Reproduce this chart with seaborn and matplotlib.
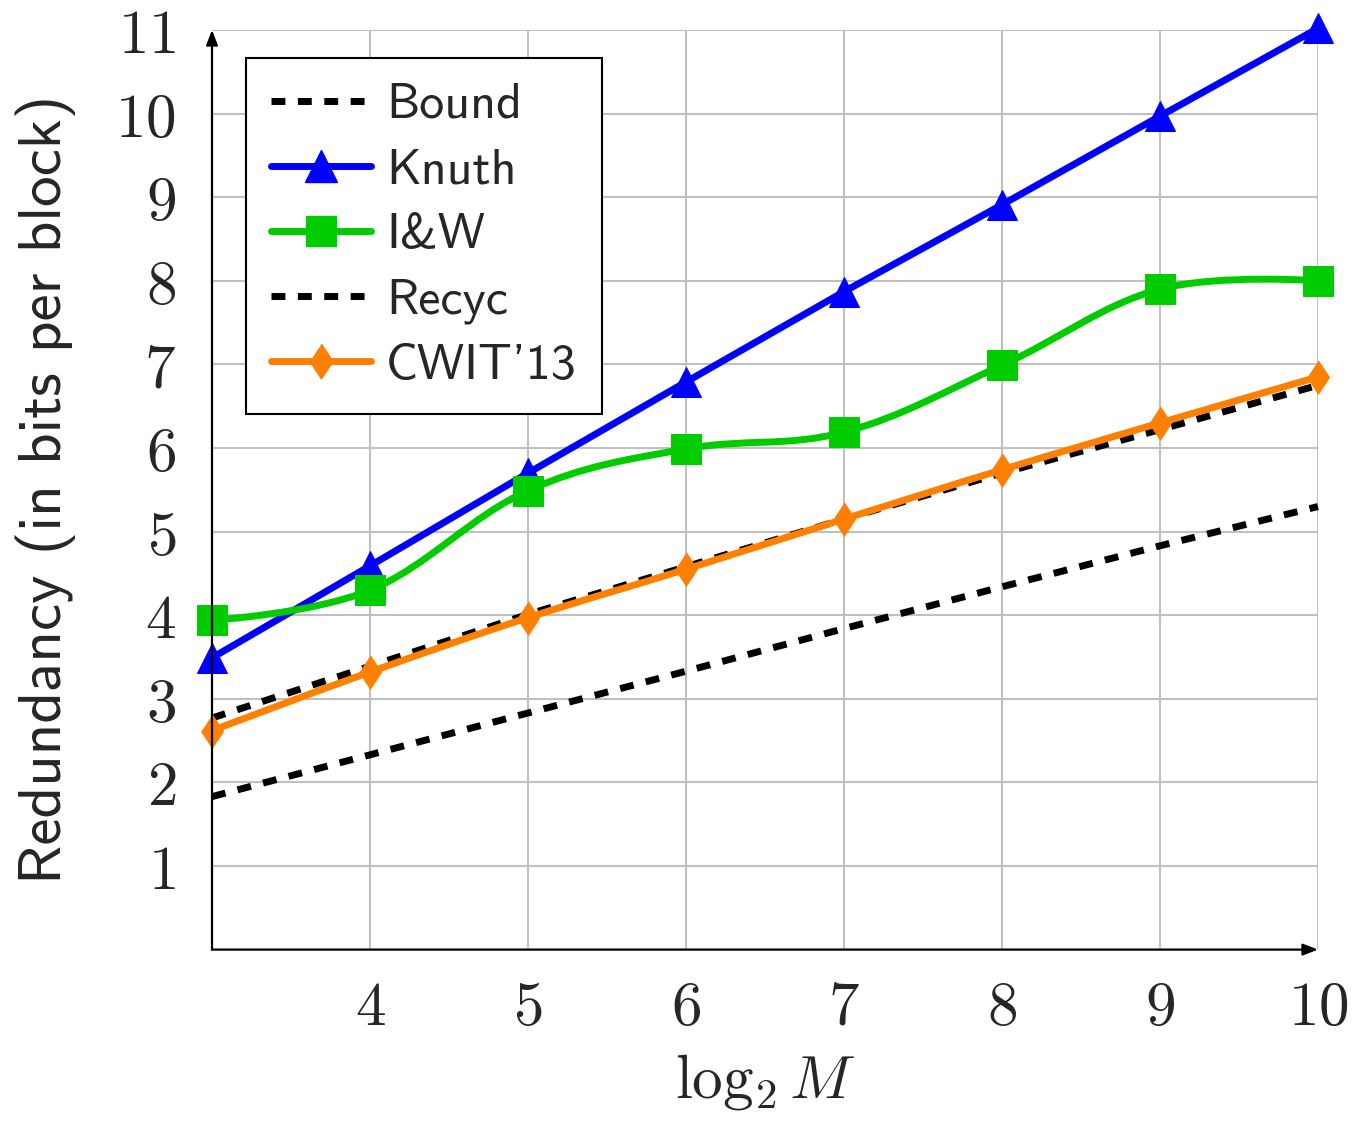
import numpy as np
import matplotlib
matplotlib.use("Agg")
import matplotlib.pyplot as plt
import seaborn as sns
import pandas as pd
from matplotlib.path import Path
from matplotlib.patches import PathPatch
from matplotlib.lines import Line2D

# ---------------- data ----------------
log2M = [3, 4, 5, 6, 7, 8, 9, 10]
bound = [1.83, 2.33, 2.83, 3.33, 3.84, 4.34, 4.83, 5.30]
knuth = [3.49, 4.59, 5.70, 6.79, 7.87, 8.91, 9.97, 11.02]
iw = [3.94, 4.30, 5.49, 5.99, 6.19, 6.99, 7.90, 8.00]
recyc = [2.77, 3.39, 4.01, 4.58, 5.15, 5.70, 6.22, 6.75]
cwit = [2.62, 3.32, 3.97, 4.55, 5.15, 5.74, 6.30, 6.85]
labels = ["Bound", "Knuth", "I&W", "Recyc", "CWIT'13"]
xticks = [4, 5, 6, 7, 8, 9, 10]
yticks = [1, 2, 3, 4, 5, 6, 7, 8, 9, 10, 11]

BLUE = "#0000FF"
GREEN = "#00CC00"
ORANGE = "#FF8000"
GRID = "#C0C0C0"

sns.set_style("white")
plt.rcParams["mathtext.fontset"] = "cm"
plt.rcParams["axes.unicode_minus"] = False
SANS = ["cmss10", "DejaVu Sans"]

W, H = 1354, 1123
fig = plt.figure(figsize=(W / 100, H / 100), dpi=100)
ax = fig.add_axes([212 / W, 1 - 949.6 / H, (1318 - 212) / W, (949.6 - 30) / H])
ax.set_xlim(3, 10)
ax.set_ylim(0, 11)

LW = 5.0
DASH = [2.0, 1.8]
diamond = [(0, 1), (0.66, 0), (0, -1), (-0.66, 0)]

def smooth_patch(xs, ys, color, z, t=0.1833):
    pts = np.column_stack([xs, ys]).astype(float)
    n = len(pts)
    verts = [pts[0]]
    codes = [Path.MOVETO]
    for i in range(n - 1):
        p0, p1 = pts[i], pts[i + 1]
        d0 = (pts[i + 1] - pts[i - 1]) if i > 0 else np.zeros(2)
        d1 = (pts[i + 2] - pts[i]) if i + 2 < n else np.zeros(2)
        verts += [p0 + t * d0, p1 - t * d1, p1]
        codes += [Path.CURVE4] * 3
    return PathPatch(Path(verts, codes), fill=False, edgecolor=color, lw=LW,
                     capstyle="butt", joinstyle="round", zorder=z)

df = pd.DataFrame({"x": log2M, "bound": bound, "knuth": knuth, "iw": iw,
                   "recyc": recyc, "cwit": cwit})

# Bound
sns.lineplot(data=df, x="x", y="bound", ax=ax, color="black", lw=LW,
             zorder=3, clip_on=False)
ax.lines[-1].set_dashes(DASH)
# Knuth
sns.lineplot(data=df, x="x", y="knuth", ax=ax, color=BLUE, lw=LW, marker="^",
             markersize=22, markeredgecolor=BLUE, markerfacecolor=BLUE,
             zorder=4, clip_on=False)
# I&W
ax.add_patch(smooth_patch(log2M, iw, GREEN, 5))
sns.lineplot(data=df, x="x", y="iw", ax=ax, color=GREEN, lw=0, marker="s",
             markersize=22, markeredgecolor=GREEN, markerfacecolor=GREEN,
             zorder=5, clip_on=False)
# Recyc
sns.lineplot(data=df, x="x", y="recyc", ax=ax, color="black", lw=LW,
             zorder=6, clip_on=False)
ax.lines[-1].set_dashes(DASH)
# CWIT'13
ax.add_patch(smooth_patch(log2M, cwit, ORANGE, 7))
sns.lineplot(data=df, x="x", y="cwit", ax=ax, color=ORANGE, lw=0, marker=diamond,
             markersize=24, markeredgecolor=ORANGE, markerfacecolor=ORANGE,
             zorder=8, clip_on=False)

# axes styling
for s in ax.spines.values():
    s.set_visible(False)
ax.set_xticks(xticks)
ax.set_yticks(yticks)
ax.set_xticklabels([f"${v}$" for v in xticks])
ax.set_yticklabels([f"${v}$" for v in yticks])
ax.grid(True, color=GRID, lw=1.5, zorder=0)
ax.set_axisbelow(True)
ax.tick_params(axis="both", direction="inout", length=18, width=1.5, color=GRID,
               labelsize=44)
ax.tick_params(axis="x", pad=12)
ax.tick_params(axis="y", pad=17)

arrow = dict(arrowstyle="-|>,head_length=0.9,head_width=0.35", color="black",
             lw=1.6, shrinkA=0, shrinkB=0)
ax.annotate("", xy=(1, 0), xytext=(0, 0), xycoords="axes fraction",
            arrowprops=arrow, annotation_clip=False, zorder=10)
ax.annotate("", xy=(0, 1), xytext=(0, 0), xycoords="axes fraction",
            arrowprops=arrow, annotation_clip=False, zorder=10)

ax.set_xlabel(r"$\log_2 M$", fontsize=44, labelpad=10)
ax.set_ylabel("Redundancy (in bits per block)", fontsize=44, family=SANS,
              labelpad=28)

handles = [
    Line2D([], [], color="black", lw=LW, dashes=DASH),
    Line2D([], [], color=BLUE, lw=LW, marker="^", markersize=23),
    Line2D([], [], color=GREEN, lw=LW, marker="s", markersize=22),
    Line2D([], [], color="black", lw=LW, dashes=DASH),
    Line2D([], [], color=ORANGE, lw=LW, marker=diamond, markersize=25),
]
leg = ax.legend(handles, labels, loc="upper left",
                bbox_to_anchor=(246 / W, 1 - 58 / H), bbox_transform=fig.transFigure,
                borderaxespad=0, prop={"family": SANS, "size": 36},
                frameon=True, fancybox=False, framealpha=1, edgecolor="black",
                handlelength=2.0, handletextpad=0.3, borderpad=0.5,
                labelspacing=0.4)
leg.get_frame().set_linewidth(1.5)
leg.set_zorder(20)

fig.savefig("out.png", dpi=100)
